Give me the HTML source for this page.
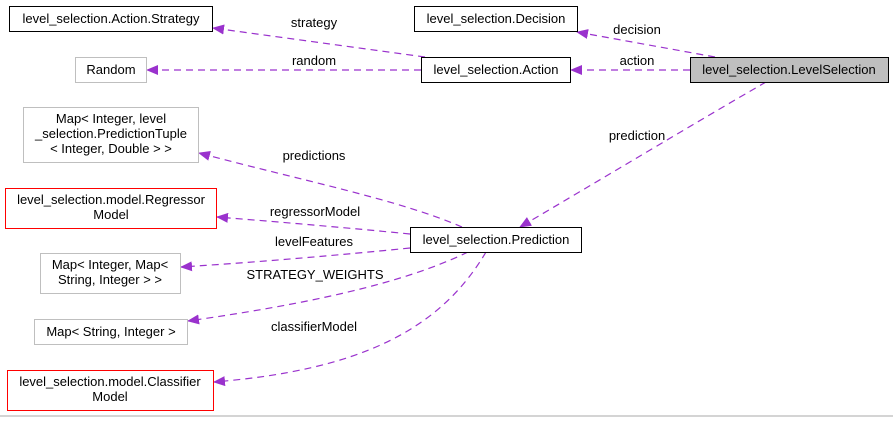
<!DOCTYPE html>
<html><head><style>
body{margin:0;background:#fff;width:893px;height:417px;overflow:hidden}
svg text{font-family:"Liberation Sans",sans-serif;font-size:13px;fill:#000}
</style></head><body>
<svg width="893" height="417" viewBox="0 0 893 417">
<defs><marker id="a" markerWidth="12" markerHeight="10" refX="11" refY="5" orient="auto" markerUnits="userSpaceOnUse"><path d="M0,0 L12,5 L0,10 z" fill="#9a32cd"/></marker></defs>
<g fill="none" stroke="#9a32cd" stroke-dasharray="7,5" stroke-width="1.2" marker-end="url(#a)">
<path d="M425,57 L213,28"/>
<path d="M421,70 L147,70"/>
<path d="M715,57 L577,32"/>
<path d="M690,70 L571,70"/>
<path d="M766,82 C700,120 600,180 520,227"/>
<path d="M462,227 C400,200 300,180 199,153"/>
<path d="M410,234 C350,228 280,222 217,217"/>
<path d="M410,248 C340,255 260,262 181,267"/>
<path d="M468,252 C400,285 300,305 188,321"/>
<path d="M486,252 C440,330 360,370 214,382"/>
</g>
<g stroke-width="1">
<rect x="9.5" y="6.5" width="203" height="25" fill="#fff" stroke="#000"/>
<rect x="75.5" y="57.5" width="71" height="25" fill="#fff" stroke="#bfbfbf"/>
<rect x="23.5" y="107.5" width="175" height="55" fill="#fff" stroke="#bfbfbf"/>
<rect x="5.5" y="188.5" width="211" height="40" fill="#fff" stroke="#f00"/>
<rect x="414.5" y="6.5" width="163" height="25" fill="#fff" stroke="#000"/>
<rect x="421.5" y="57.5" width="149" height="25" fill="#fff" stroke="#000"/>
<rect x="690.5" y="57.5" width="198" height="25" fill="#bfbfbf" stroke="#000"/>
<rect x="410.5" y="227.5" width="171" height="25" fill="#fff" stroke="#000"/>
<rect x="40.5" y="253.5" width="140" height="40" fill="#fff" stroke="#bfbfbf"/>
<rect x="34.5" y="319.5" width="153" height="25" fill="#fff" stroke="#bfbfbf"/>
<rect x="7.5" y="370.5" width="206" height="40" fill="#fff" stroke="#f00"/>
</g>
<line x1="0" y1="416" x2="893" y2="416" stroke="#aaa"/>
<g text-anchor="middle">
<text x="111" y="23">level_selection.Action.Strategy</text>
<text x="111" y="74">Random</text>
<text x="111" y="123">Map&lt; Integer, level</text>
<text x="111" y="138">_selection.PredictionTuple</text>
<text x="111" y="153">&lt; Integer, Double &gt; &gt;</text>
<text x="111" y="204">level_selection.model.Regressor</text>
<text x="111" y="219">Model</text>
<text x="496" y="23">level_selection.Decision</text>
<text x="496" y="74">level_selection.Action</text>
<text x="789" y="74">level_selection.LevelSelection</text>
<text x="496" y="244">level_selection.Prediction</text>
<text x="110" y="269">Map&lt; Integer, Map&lt;</text>
<text x="110" y="284">String, Integer &gt; &gt;</text>
<text x="111" y="336">Map&lt; String, Integer &gt;</text>
<text x="110" y="386">level_selection.model.Classifier</text>
<text x="110" y="401">Model</text>
<text x="314" y="27">strategy</text>
<text x="314" y="65">random</text>
<text x="637" y="34">decision</text>
<text x="637" y="65">action</text>
<text x="637" y="140">prediction</text>
<text x="314" y="160">predictions</text>
<text x="315" y="216">regressorModel</text>
<text x="314" y="246">levelFeatures</text>
<text x="315" y="279">STRATEGY_WEIGHTS</text>
<text x="314" y="331">classifierModel</text>
</g>
</svg>
</body></html>
